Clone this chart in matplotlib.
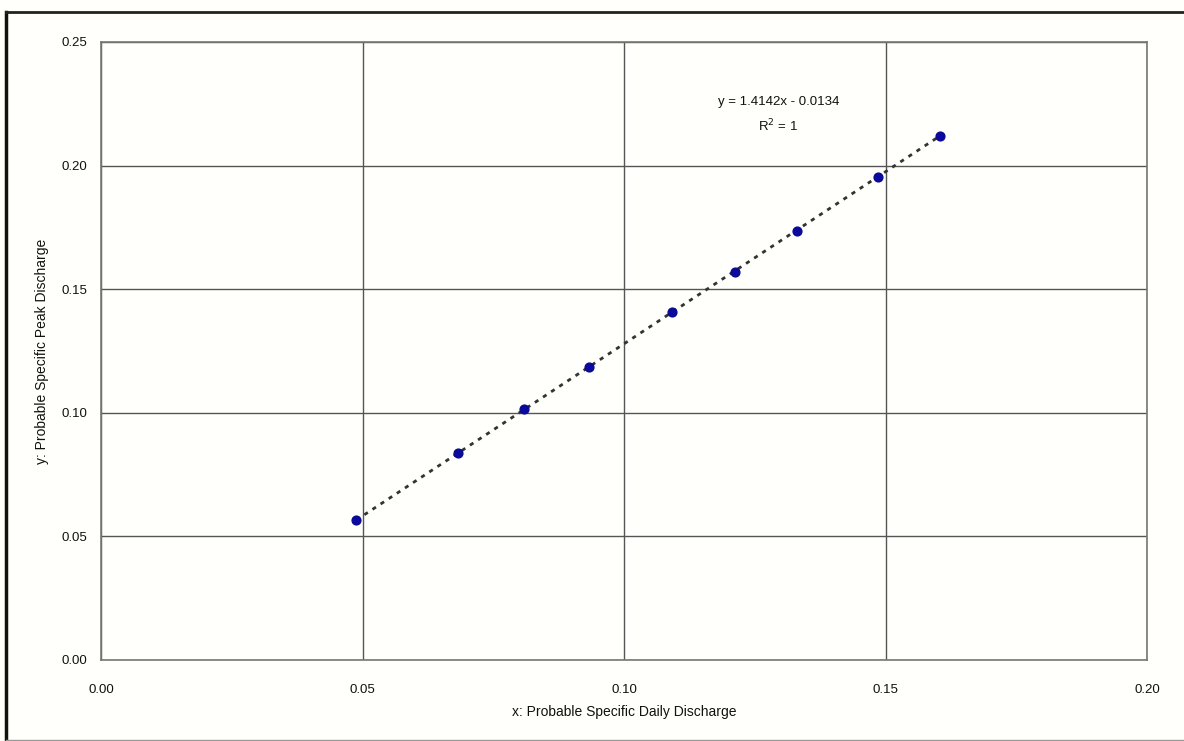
import matplotlib
matplotlib.use("Agg")
import matplotlib.pyplot as plt
from matplotlib.lines import Line2D

x_vals = [0.0488, 0.0683, 0.0809, 0.0933, 0.1092, 0.1212, 0.1331, 0.1486, 0.1604]
y_vals = [0.0566, 0.0837, 0.1015, 0.1185, 0.1408, 0.1570, 0.1735, 0.1954, 0.2120]
x_ticks = [0.00, 0.05, 0.10, 0.15, 0.20]
y_ticks = [0.00, 0.05, 0.10, 0.15, 0.20, 0.25]
x_label = "x: Probable Specific Daily Discharge"
y_label = "y: Probable Specific Peak Discharge"
eq_text = "y = 1.4142x - 0.0134\nR$^2$ = 1"

plt.rcParams['font.family'] = ['Liberation Sans', 'DejaVu Sans']

fig = plt.figure(figsize=(11.84, 7.41), dpi=100)
fig.patch.set_facecolor('#fffffb')

# scan border
fig.add_artist(Line2D([6/1184, 6/1184], [0, 1 - 12/741], transform=fig.transFigure,
                      color='#111111', lw=2.5))
fig.add_artist(Line2D([6/1184, 1], [1 - 12/741, 1 - 12/741], transform=fig.transFigure,
                      color='#222222', lw=2.0))
fig.add_artist(Line2D([6/1184, 1], [1/741, 1/741], transform=fig.transFigure,
                      color='#999999', lw=1.0))

ax = fig.add_axes([101/1184, 81/741, 1046/1184, 618/741])
ax.set_facecolor('#fffffb')
ax.set_xlim(0, 0.20)
ax.set_ylim(0, 0.25)
ax.set_xticks(x_ticks)
ax.set_yticks(y_ticks)
ax.set_xticklabels([f"{t:.2f}" for t in x_ticks])
ax.set_yticklabels([f"{t:.2f}" for t in y_ticks])
ax.tick_params(length=0, labelsize=9.5, colors='#111111')
ax.tick_params(axis='x', pad=17)
ax.tick_params(axis='y', pad=10)
ax.grid(True, color='#555555', lw=1.0)
ax.set_axisbelow(True)
for s in ax.spines.values():
    s.set_color('#777777')
    s.set_linewidth(1.2)

# trendline
ax.plot([x_vals[0], x_vals[-1]], [y_vals[0], y_vals[-1]], linestyle=(0, (1.5, 2.0)),
        color='#333333', lw=2.0, zorder=3)
ax.scatter(x_vals, y_vals, s=40, color='#0a0aa0', zorder=4, edgecolors='#0a0a90')

ax.text(0.1295, 0.2205, eq_text, ha='center', va='center', fontsize=9.5, color='#111111',
        linespacing=1.75)

ax.set_xlabel(x_label, fontsize=10, color='#111111', labelpad=7)
ax.set_ylabel(y_label, fontsize=10, color='#111111', labelpad=9)

fig.savefig("out.png", dpi=100, facecolor=fig.get_facecolor())
